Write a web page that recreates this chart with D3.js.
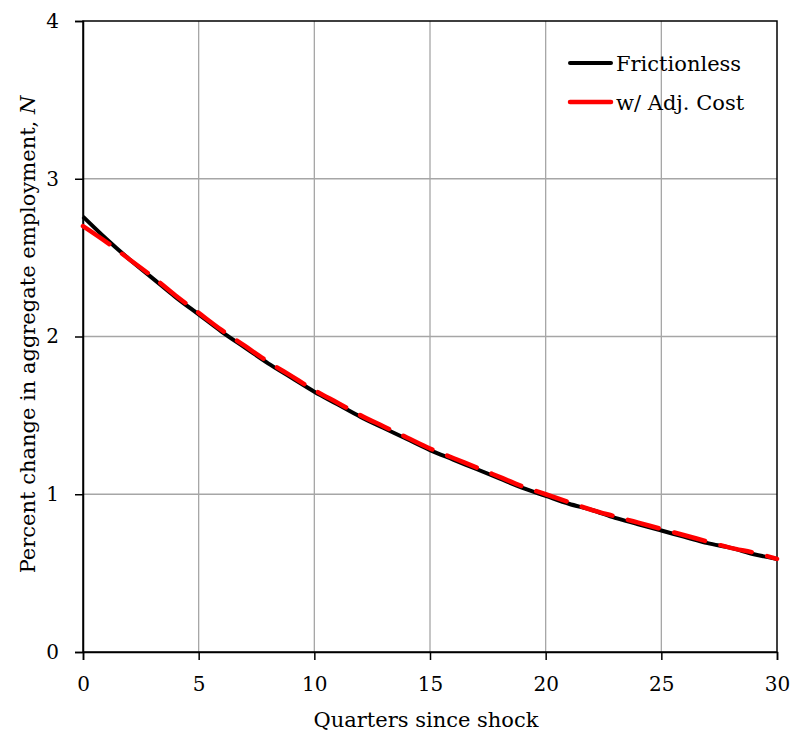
<!DOCTYPE html>
<html>
<head>
<meta charset="utf-8">
<script src="https://d3js.org/d3.v7.min.js"></script>
<style>
  body { margin: 0; background: #fff; font-family: "DejaVu Serif", serif; }
  .axis text { font-size: 20px; fill: #000; font-family: "DejaVu Serif", serif; }
  .grid line { stroke: #a6a6a6; stroke-width: 1.3; }
</style>
</head>
<body>
<svg id="chart" width="795" height="733"></svg>
<script>
// quarters since shock
const quarters = d3.range(0, 31);
// frictionless response (percent)
const frictionless = [2.76, 2.62, 2.49, 2.37, 2.25, 2.14, 2.03, 1.93, 1.83, 1.74,
  1.65, 1.57, 1.49, 1.42, 1.35, 1.28, 1.22, 1.16, 1.10, 1.04,
  0.99, 0.94, 0.90, 0.85, 0.81, 0.77, 0.73, 0.69, 0.66, 0.62, 0.59];
// with adjustment cost
const adjCost = [2.70, 2.60, 2.49, 2.38, 2.26, 2.15, 2.04, 1.94, 1.84, 1.75,
  1.66, 1.58, 1.50, 1.43, 1.36, 1.29, 1.23, 1.17, 1.11, 1.05,
  1.00, 0.95, 0.90, 0.86, 0.82, 0.78, 0.74, 0.70, 0.66, 0.63, 0.59];
const xTicks = [0, 5, 10, 15, 20, 25, 30];
const yTicks = [0, 1, 2, 3, 4];

const margin = { top: 21, right: 18, bottom: 81, left: 83 };
const width = 795 - margin.left - margin.right;
const height = 733 - margin.top - margin.bottom;

const svg = d3.select("#chart")
  .append("g")
  .attr("transform", "translate(" + margin.left + "," + margin.top + ")");

const x = d3.scaleLinear().domain([0, 30]).range([0, width]);
const y = d3.scaleLinear().domain([0, 4]).range([height, 0]);

// gridlines
svg.append("g").attr("class", "grid")
  .selectAll("line").data(xTicks.slice(1, -1)).join("line")
  .attr("x1", d => x(d)).attr("x2", d => x(d))
  .attr("y1", 0).attr("y2", height);
svg.append("g").attr("class", "grid")
  .selectAll("line").data(yTicks.slice(1, -1)).join("line")
  .attr("y1", d => y(d)).attr("y2", d => y(d))
  .attr("x1", 0).attr("x2", width);

// frame
svg.append("rect")
  .attr("width", width).attr("height", height)
  .attr("fill", "none").attr("stroke", "#000").attr("stroke-width", 1.5);

// axes
const xAxis = svg.append("g").attr("class", "axis")
  .attr("transform", "translate(0," + height + ")")
  .call(d3.axisBottom(x).tickValues(xTicks).tickFormat(d3.format("d")).tickSize(8).tickPadding(17));
const yAxis = svg.append("g").attr("class", "axis")
  .call(d3.axisLeft(y).tickValues(yTicks).tickFormat(d3.format("d")).tickSize(8).tickPadding(16));
[xAxis, yAxis].forEach(a => {
  a.select(".domain").attr("stroke", "#000").attr("stroke-width", 1.5);
  a.selectAll(".tick line").attr("stroke", "#000").attr("stroke-width", 1.5);
});

const line = d3.line().x((d, i) => x(quarters[i])).y(d => y(d)).curve(d3.curveMonotoneX);

svg.append("path").datum(frictionless)
  .attr("d", line).attr("fill", "none")
  .attr("stroke", "#000").attr("stroke-width", 4);
svg.append("path").datum(adjCost)
  .attr("d", line).attr("fill", "none")
  .attr("stroke", "#ff0000").attr("stroke-width", 4.5)
  .attr("stroke-dasharray", "32,16").attr("stroke-linecap", "round");

// legend
const legend = [
  { name: "Frictionless", color: "#000", w: 4, y: 42 },
  { name: "w/ Adj. Cost", color: "#ff0000", w: 4.5, y: 81 }
];
const lg = svg.selectAll(".legend").data(legend).join("g").attr("class", "legend");
lg.append("line")
  .attr("x1", 487).attr("x2", 528)
  .attr("y1", d => d.y).attr("y2", d => d.y)
  .attr("stroke", d => d.color).attr("stroke-width", d => d.w)
  .attr("stroke-linecap", "round");
lg.append("text")
  .attr("x", 533).attr("y", d => d.y + 8)
  .attr("font-size", 21)
  .text(d => d.name);

// axis titles
svg.append("text")
  .attr("x", width / 2 - 4).attr("y", height + 75)
  .attr("text-anchor", "middle").attr("font-size", 21)
  .text("Quarters since shock");
const yt = svg.append("text")
  .attr("transform", "translate(-48," + (height / 2 - 2) + ") rotate(-90)")
  .attr("text-anchor", "middle").attr("font-size", 21);
yt.append("tspan").text("Percent change in aggregate employment, ");
yt.append("tspan").attr("font-style", "italic").text("N");
</script>
</body>
</html>
